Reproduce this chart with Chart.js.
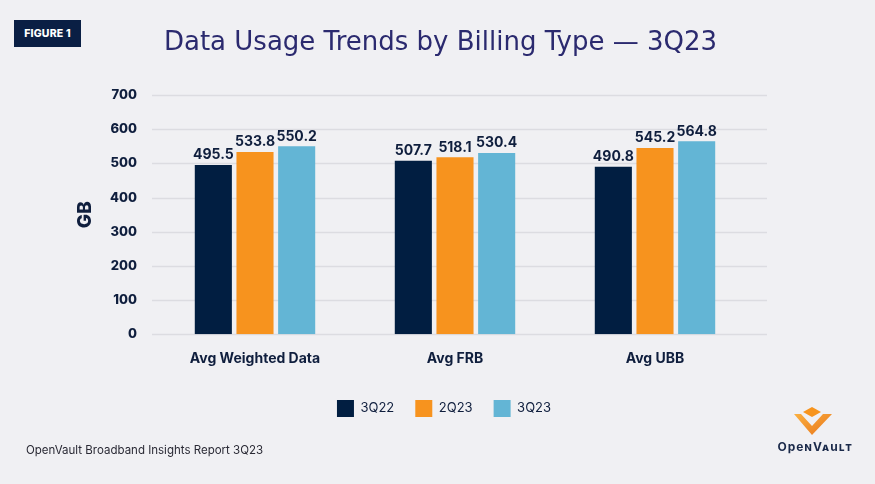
<!DOCTYPE html>
<html>
<head>
<meta charset="utf-8">
<script src="https://cdn.jsdelivr.net/npm/chart.js@4/dist/chart.umd.min.js"></script>
<style>
  html, body { margin: 0; padding: 0; background: #f0f0f3; }
  body { width: 875px; height: 484px; position: relative; overflow: hidden; font-family: Inter, "Open Sans", sans-serif; }
  #wrap { position: absolute; left: 0; top: 0; width: 875px; height: 484px; }
  #badge { position: absolute; left: 14px; top: 20px; width: 67px; height: 27px; background: #0a1f44; color: #fff;
           font: 800 10.5px Inter, sans-serif; letter-spacing: 0.2px; display: flex; align-items: center; justify-content: center; }
  #foot { position: absolute; left: 26px; top: 443px; font: 400 11.5px Inter, sans-serif; color: #2a2a35; }
  #logo { position: absolute; left: 770px; top: 400px; width: 90px; height: 60px; }
</style>
</head>
<body>
<div id="wrap"><canvas id="c" width="875" height="484"></canvas></div>
<div id="badge">FIGURE 1</div>
<div id="foot">OpenVault Broadband Insights Report 3Q23</div>
<svg id="logo" viewBox="0 0 90 60" xmlns="http://www.w3.org/2000/svg">
  <defs>
    <linearGradient id="og" x1="0" y1="0" x2="1" y2="1">
      <stop offset="0" stop-color="#fbb040"/>
      <stop offset="1" stop-color="#e8761a"/>
    </linearGradient>
  </defs>
  <polygon points="42,7 51,12 42,17 33,12" fill="#f7941d"/>
  <polygon points="24,14 31,14 42,26 53,14 62,14 42,35" fill="url(#og)"/>
  <text x="45" y="51" text-anchor="middle" font-family="Inter, sans-serif" font-weight="700" font-size="12" fill="#1b2a4a" letter-spacing="1" style="font-variant: small-caps">OpenVault</text>
</svg>
<script>
const categories = ['Avg Weighted Data', 'Avg FRB', 'Avg UBB'];
const seriesNames = ['3Q22', '2Q23', '3Q23'];
const values3Q22 = [495.5, 507.7, 490.8];
const values2Q23 = [533.8, 518.1, 545.2];
const values3Q23 = [550.2, 530.4, 564.8];
const yTicks = [0, 100, 200, 300, 400, 500, 600, 700];

const NAVY = '#0f1e3d';

const gridPlugin = {
  id: 'extGrid',
  beforeDatasetsDraw(chart) {
    const y = chart.scales.y, ctx = chart.ctx;
    ctx.save();
    ctx.strokeStyle = '#dcdce1';
    ctx.lineWidth = 1.5;
    yTicks.forEach(v => {
      const py = Math.round(y.getPixelForValue(v)) + 0.5;
      ctx.beginPath();
      ctx.moveTo(152, py);
      ctx.lineTo(767, py);
      ctx.stroke();
    });
    ctx.restore();
  }
};

const labelPlugin = {
  id: 'barLabels',
  afterDatasetsDraw(chart) {
    const ctx = chart.ctx;
    ctx.save();
    ctx.font = '700 14px Inter, sans-serif';
    ctx.fillStyle = NAVY;
    ctx.textAlign = 'center';
    ctx.textBaseline = 'bottom';
    chart.data.datasets.forEach((ds, di) => {
      chart.getDatasetMeta(di).data.forEach((bar, i) => {
        ctx.fillText(ds.data[i].toFixed(1), bar.x, bar.y - 3);
      });
    });
    ctx.restore();
  }
};

const boxShift = {
  id: 'boxShift',
  afterLayout(chart) {
    const lg = chart.legend;
    if (lg) { lg.left -= 11; lg.right -= 11; lg.top -= 3; lg.bottom -= 3; }
    const tb = chart.titleBlock;
    if (tb) { tb.left += 33; tb.right += 33; }
  }
};

new Chart(document.getElementById('c'), {
  type: 'bar',
  data: {
    labels: categories,
    datasets: [
      { label: seriesNames[0], data: values3Q22, backgroundColor: '#011e41' },
      { label: seriesNames[1], data: values2Q23, backgroundColor: '#f7931e' },
      { label: seriesNames[2], data: values3Q23, backgroundColor: '#63b5d5' }
    ]
  },
  options: {
    responsive: false,
    animation: false,
    layout: { padding: { left: 60, right: 120, top: 0, bottom: 54 } },
    datasets: { bar: { barPercentage: 0.89, categoryPercentage: 0.625 } },
    plugins: {
      title: {
        display: true,
        text: 'Data Usage Trends by Billing Type — 3Q23',
        color: '#2b2a6f',
        font: { family: '"DejaVu Sans", sans-serif', size: 26, weight: '400' },
        padding: { top: 28, bottom: 36 }
      },
      legend: {
        position: 'bottom',
        fullSize: false,
        labels: {
          boxWidth: 17, boxHeight: 17, padding: 21,
          color: NAVY,
          font: { family: 'Inter, sans-serif', size: 13, weight: '400' }
        }
      },
      tooltip: { enabled: false }
    },
    scales: {
      x: {
        grid: { display: false },
        border: { display: false },
        ticks: { color: NAVY, padding: 8, font: { family: 'Inter, sans-serif', size: 14, weight: '700' } },
        afterFit(scale) { scale.height += 7; }
      },
      y: {
        min: 0, max: 700,
        afterBuildTicks(scale) { scale.ticks = yTicks.map(v => ({ value: v })); },
        grid: { display: false },
        border: { display: false },
        ticks: { color: NAVY, padding: 10, font: { family: 'Inter, sans-serif', size: 13, weight: '800' } },
        title: { display: true, text: 'GB', color: NAVY, padding: { top: 14, bottom: 0 },
                 font: { family: 'Inter, sans-serif', size: 19, weight: '800' } },
        afterFit(scale) { scale.width = 95; }
      }
    }
  },
  plugins: [gridPlugin, labelPlugin, boxShift]
});
</script>
</body>
</html>
